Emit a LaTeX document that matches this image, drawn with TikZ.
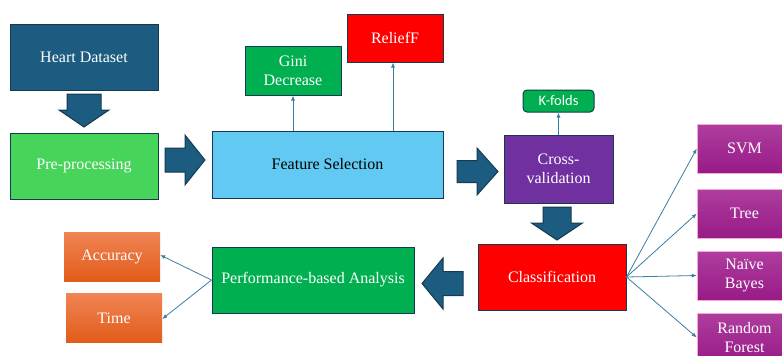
\documentclass[tikz,border=0pt]{standalone}
\usepackage{fontspec}
\setmainfont{Liberation Serif}
\newfontfamily\kfont{Carlito}
\usetikzlibrary{arrows.meta}

\definecolor{darkblue}{HTML}{1B5C80}
\definecolor{edgeblue}{HTML}{163A4E}
\definecolor{pregreen}{HTML}{47D45A}
\definecolor{skyblue}{HTML}{62C9F2}
\definecolor{leafgreen}{HTML}{00B050}
\definecolor{cvpurple}{HTML}{7030A0}
\definecolor{linkblue}{HTML}{3C7EA2}

\begin{document}
\begin{tikzpicture}[x=1pt, y=-1pt]
	\tikzstyle{box} = [draw=edgeblue, line width=1pt, rectangle, text=white, align=center, font={\fontsize{16}{19}\selectfont}];
	\tikzstyle{model} = [rectangle, text=white, align=center, font={\fontsize{16}{19}\selectfont}, minimum width=95, minimum height=49, draw=magenta!35, line width=0.4pt, top color={rgb,255:red,174;green,62;blue,158}, bottom color={rgb,255:red,152;green,26;blue,136}];
	\tikzstyle{metric} = [rectangle, text=white, font={\fontsize{16}{19}\selectfont}, minimum width=96, minimum height=49, top color={rgb,255:red,240;green,132;blue,84}, bottom color={rgb,255:red,226;green,92;blue,26}];
	\tikzstyle{link} = [-{Latex[length=5pt, width=4pt]}, draw=linkblue, line width=0.8pt];
	\tikzstyle{bigarrow} = [fill=darkblue, draw=edgeblue, line width=1pt, line join=miter];

	\useasboundingbox (0,0) rectangle (782,356);
	\clip (0,0) rectangle (782,356);

	% main flow
	\node[box, fill=darkblue, minimum width=148, minimum height=66] (data) at (84,57) {Heart Dataset};
	\node[box, fill=pregreen, minimum width=148, minimum height=66] (pre) at (84,166) {Pre-processing};
	\node[box, fill=skyblue, text=black, minimum width=231, minimum height=67] (fs) at (327.5,164.5) {Feature Selection};
	\node[box, fill=cvpurple, minimum width=109, minimum height=68] (cv) at (558.5,169) {Cross-\\validation};
	\node[box, fill=red, minimum width=148, minimum height=66] (cls) at (552,277) {Classification};
	\node[box, fill=leafgreen, minimum width=202, minimum height=66] (pba) at (313,280) {Performance-based Analysis};

	% feature selection methods
	\node[box, fill=leafgreen, minimum width=96, minimum height=49] (gini) at (293,70.5) {Gini\\Decrease};
	\node[box, fill=red, minimum width=96, minimum height=48] (relief) at (395,38) {ReliefF};
	\draw[link] (fs.north -| gini.south) -- (gini.south);
	\draw[link] ([xshift=-2pt]fs.north -| relief.south) -- ([xshift=-2pt]relief.south);

	% validation
	\node[box, fill=leafgreen, rounded corners=4pt, minimum width=71, minimum height=22, font={\kfont\fontsize{14.5}{16}\selectfont}] (kf) at (558.5,101) {K-folds};
	\draw[link] (cv.north) -- (kf.south);

	% classifiers
	\foreach \name/\y/\txt in {svm/148.5/SVM, tree/213.5/Tree, nb/275.5/Naïve\\Bayes, rf/337.5/Random\\Forest} {
		\node[model] (\name) at (744.5,\y) {\txt};
		\draw[link] (cls.east) -- (\name.west);
	}

	% metrics
	\node[metric] (acc) at (112,256.5) {Accuracy};
	\node[metric] (time) at (114,318) {Time};
	\draw[link] (pba.west) -- ([yshift=1.5pt]acc.east);
	\draw[link] (pba.west) -- ([yshift=-1pt]time.east);

	% block arrows between stages
	\foreach \cx/\cy/\rot/\len/\sw/\hw/\hl in {84/110.5/-90/33/17/25/17, 185/160/0/40/12/25/20, 477.5/171.5/0/41/11/23.5/21, 557/223.5/-90/33/14/25.5/17, 442.5/283.5/180/41/12/25.5/21} {
		\draw[bigarrow, shift={(\cx,\cy)}, rotate=\rot]
			(-\len/2,-\sw) -- (\len/2-\hl,-\sw) -- (\len/2-\hl,-\hw) -- (\len/2,0)
			-- (\len/2-\hl,\hw) -- (\len/2-\hl,\sw) -- (-\len/2,\sw) -- cycle;
	}
\end{tikzpicture}
\end{document}
